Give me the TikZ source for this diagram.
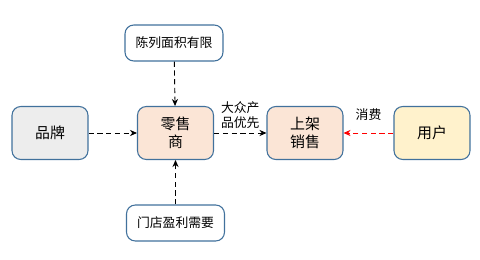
\documentclass[tikz,border=0pt]{standalone}
\usepackage{fontspec}
\setmainfont{Noto Sans CJK SC}
\usetikzlibrary{arrows.meta, positioning}
\definecolor{boxLine}{RGB}{65,113,156}
\definecolor{fillBrand}{RGB}{237,237,237}
\definecolor{fillShop}{RGB}{251,229,214}
\definecolor{fillUser}{RGB}{255,242,204}

\begin{document}
\begin{tikzpicture}[x=0.02cm, y=-0.02cm,
        box/.style={draw=boxLine, fill=#1, line width=0.6pt, minimum width=1.52cm,
                    minimum height=1.06cm, rounded corners=5pt, align=center,
                    font=\fontsize{8.5}{10}\selectfont},
        note/.style={draw=boxLine, fill=white, line width=0.6pt, minimum width=1.96cm,
                     minimum height=0.72cm, rounded corners=5pt,
                     font=\fontsize{7.3}{9}\selectfont},
        lbl/.style={font=\fontsize{7.3}{8.6}\selectfont, align=center, inner sep=2pt},
        arr/.style={-{Stealth[length=4pt, width=3.5pt]}, dashed, line width=0.5pt,
                    dash pattern=on 3pt off 2pt}
      ]
        \useasboundingbox (0,0) rectangle (480,260);
        \node[box=fillBrand] (brand)  at (50,133)  {品牌};
        \node[box=fillShop]  (retail) at (175.5,133) {零售\\商};
        \node[box=fillShop]  (shelf)  at (305,133) {上架\\销售};
        \node[box=fillUser]  (user)   at (432,133) {用户};
        \node[note] (space)  at (174,43)  {陈列面积有限};
        \node[note] (profit) at (175.5,223) {门店盈利需要};
        \draw[arr] (brand)--(retail);
        \draw[arr] (space)--(retail);
        \draw[arr] (profit)--(retail);
        \draw[arr] (retail)-- node[lbl, above] {大众产\\品优先} (shelf);
        \draw[arr, red] (user)-- node[lbl, above=5pt, text=black] {消费} (shelf);
      \end{tikzpicture}
\end{document}
